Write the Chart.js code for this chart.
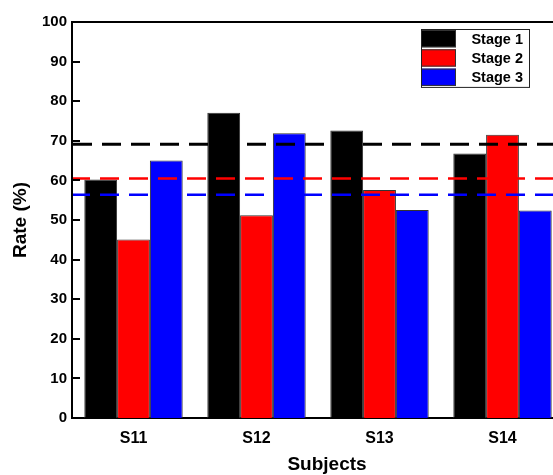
<!DOCTYPE html>
<html>
<head>
<meta charset="utf-8">
<script src="https://cdn.jsdelivr.net/npm/chart.js@4/dist/chart.umd.min.js"></script>
<style>
  html, body { margin: 0; padding: 0; background: #fff; overflow: hidden; }
  #wrap { width: 553px; height: 475px; overflow: hidden; }
  canvas { display: block; }
</style>
</head>
<body>
<div id="wrap"><canvas id="c" width="566" height="475"></canvas></div>
<script>
// Subjects and per-stage rates (%)
const subjects = ['S11', 'S12', 'S13', 'S14'];
const stageLabels = ['Stage 1', 'Stage 2', 'Stage 3'];
const stage1 = [60.2, 77.1, 72.6, 66.8];
const stage2 = [45.1, 51.2, 57.6, 71.5];
const stage3 = [65.0, 71.9, 52.5, 52.4];
// Dashed reference levels, one per stage colour
const refLevels = [69.1, 60.5, 56.4];
const stageColors = ['#000000', '#ff0000', '#0000ff'];
const yTicks = [0, 10, 20, 30, 40, 50, 60, 70, 80, 90, 100];

const FONT = '"Liberation Sans", Arial, sans-serif';

// Frame, inner tick marks, axis titles and legend
const decor = {
  id: 'decor',
  afterDatasetsDraw(chart) {
    const { ctx, chartArea: a, scales: { y } } = chart;
    ctx.save();
    ctx.setLineDash([19, 10]);
    refLevels.forEach((v, i) => {
      const py = y.getPixelForValue(v);
      ctx.strokeStyle = stageColors[i];
      ctx.lineWidth = i === 0 ? 3 : 2.5;
      ctx.lineDashOffset = i === 0 ? 0 : 2;
      ctx.beginPath();
      ctx.moveTo(a.left + 1, py);
      ctx.lineTo(a.right, py);
      ctx.stroke();
    });
    ctx.restore();
  },
  afterDraw(chart) {
    const { ctx, chartArea: a, scales: { y } } = chart;
    ctx.save();
    ctx.strokeStyle = '#000';
    ctx.lineWidth = 2;
    // top frame line
    ctx.beginPath();
    ctx.moveTo(a.left, a.top);
    ctx.lineTo(a.right, a.top);
    ctx.stroke();
    // inward tick marks on the value axis
    yTicks.forEach(v => {
      const py = Math.round(y.getPixelForValue(v));
      ctx.beginPath();
      ctx.moveTo(a.left, py);
      ctx.lineTo(a.left + 8, py);
      ctx.stroke();
    });

    // axis titles
    ctx.fillStyle = '#000';
    ctx.font = 'bold 19px ' + FONT;
    ctx.textAlign = 'center';
    ctx.textBaseline = 'middle';
    ctx.fillText('Subjects', (a.left + a.right) / 2 + 9, 465);
    ctx.save();
    ctx.translate(21, (a.top + a.bottom) / 2);
    ctx.rotate(-Math.PI / 2);
    ctx.fillText('Rate (%)', 0, 0);
    ctx.restore();

    // legend box
    const lx = 421, ly = 29, lw = 108, rowH = 19.3, sw = 35;
    ctx.fillStyle = '#fff';
    ctx.fillRect(lx, ly, lw, rowH * 3);
    stageLabels.forEach((lab, i) => {
      const ry = ly + i * rowH;
      ctx.fillStyle = stageColors[i];
      ctx.fillRect(lx, ry + 1, sw, rowH - 2);
      ctx.strokeStyle = '#333';
      ctx.lineWidth = 1;
      ctx.strokeRect(lx + 0.5, ry + 1.5, sw - 1, rowH - 3);
      ctx.fillStyle = '#000';
      ctx.font = 'bold 14.5px ' + FONT;
      ctx.textAlign = 'right';
      ctx.textBaseline = 'middle';
      ctx.fillText(lab, lx + lw - 6, ry + rowH / 2 + 1);
    });
    ctx.strokeStyle = '#222';
    ctx.lineWidth = 1;
    ctx.strokeRect(lx + 0.5, ly + 0.5, lw, rowH * 3);
    ctx.restore();
  }
};

const seriesValues = [stage1, stage2, stage3];

new Chart(document.getElementById('c'), {
  type: 'bar',
  data: {
    labels: subjects,
    datasets: seriesValues.map((vals, i) => ({
      label: stageLabels[i],
      data: vals,
      backgroundColor: stageColors[i],
      borderColor: '#333',
      borderWidth: 1,
      categoryPercentage: 0.8,
      barPercentage: 1.0
    }))
  },
  options: {
    responsive: false,
    animation: false,
    devicePixelRatio: 1,
    layout: { padding: { top: 22, right: 2, left: 0, bottom: 0 } },
    plugins: { legend: { display: false }, tooltip: { enabled: false } },
    scales: {
      x: {
        grid: { display: false, drawTicks: false },
        border: { display: true, color: '#000', width: 2 },
        ticks: { color: '#000', font: { family: FONT, size: 16, weight: 'bold' }, padding: 11 },
        afterFit(s) { s.height = 57; }
      },
      y: {
        min: 0, max: 100,
        grid: { display: false, drawTicks: false },
        border: { display: true, color: '#000', width: 2 },
        ticks: {
          stepSize: 10,
          color: '#000',
          font: { family: FONT, size: 15, weight: 'bold' },
          padding: 5
        },
        afterFit(s) { s.width = 72; }
      }
    }
  },
  plugins: [decor]
});
</script>
</body>
</html>
